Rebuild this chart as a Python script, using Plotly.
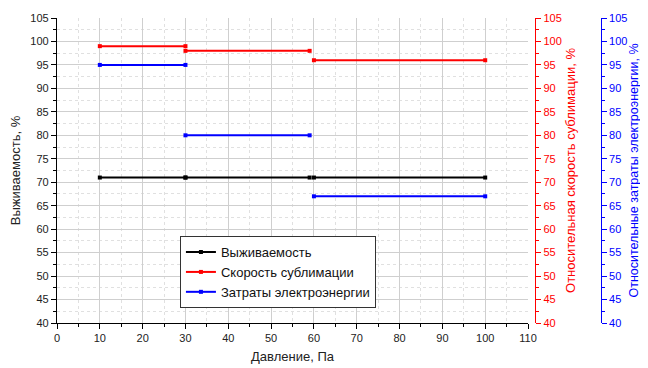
import plotly.graph_objects as go

# Data
seg_start = [10, 30, 60]
seg_end = [30, 59, 100]
survival = [71, 71, 71]
sublimation = [99, 98, 96]
energy = [95, 80, 67]

names = ["Выживаемость", "Скорость сублимации", "Затраты электроэнергии"]
x_title = "Давление, Па"
y1_title = "Выживаемость, %"
y2_title = "Относительная скорость сублимации, %"
y3_title = "Относительные затраты электроэнергии, %"


def build(values):
    xs, ys = [], []
    for s, e, v in zip(seg_start, seg_end, values):
        xs += [s, e, None]
        ys += [v, v, None]
    return xs, ys


fig = go.Figure()
series = [(survival, "black", "y"), (sublimation, "#ff0000", "y2"), (energy, "#0000ff", "y3")]
for (vals, col, ax), nm in zip(series, names):
    xs, ys = build(vals)
    fig.add_trace(go.Scatter(x=xs, y=ys, mode="lines+markers", name=nm, yaxis=ax,
                             line=dict(color=col, width=2),
                             marker=dict(symbol="square", size=4, color=col),
                             connectgaps=False))

font = "Liberation Sans, Arial, sans-serif"
grid_major = "#cfcfcf"
grid_minor = "#e0e0e0"

fig.update_layout(
    width=640, height=360,
    margin=dict(l=49, r=0, t=10, b=45, autoexpand=False),
    paper_bgcolor="white", plot_bgcolor="white",
    font=dict(family=font, size=12, color="#222"),
    showlegend=True,
    legend=dict(x=0.208, y=0.285, xanchor="left", yanchor="top",
                bordercolor="#333", borderwidth=1, bgcolor="white",
                font=dict(size=13, color="#111"), tracegroupgap=0,
                itemwidth=30),
    xaxis=dict(domain=[0, 0.797], range=[0, 110], dtick=10, tick0=0,
               automargin=False,
               showline=True, linecolor="black", linewidth=1.3,
               ticks="outside", ticklen=5, tickcolor="black",
               showgrid=True, gridcolor=grid_major, gridwidth=1,
               zeroline=False,
               minor=dict(dtick=5, ticks="outside", ticklen=3, tickcolor="black",
                          showgrid=True, gridcolor=grid_minor, griddash="dot"),
               title=dict(text=x_title, font=dict(size=13, color="#222"), standoff=8),
               tickfont=dict(size=11, color="#222")),
    yaxis=dict(range=[40, 105], dtick=5, tick0=40, automargin=False,
               showline=True, linecolor="black", linewidth=1.3,
               ticks="outside", ticklen=5, tickcolor="black",
               showgrid=True, gridcolor=grid_major, gridwidth=1,
               zeroline=False,
               minor=dict(dtick=2.5, ticks="outside", ticklen=3, tickcolor="black",
                          showgrid=True, gridcolor=grid_minor, griddash="dot"),
               title=dict(text=y1_title, font=dict(size=13, color="#222"), standoff=7),
               tickfont=dict(size=11, color="#222")),
    yaxis2=dict(range=[40, 105], dtick=5, tick0=40, overlaying="y", automargin=False,
                anchor="free", position=0.809, side="right",
                showline=True, linecolor="#ff0000", linewidth=1.3,
                ticks="outside", ticklen=5, tickcolor="#ff0000",
                showgrid=False, zeroline=False,
                minor=dict(dtick=2.5, ticks="outside", ticklen=3, tickcolor="#ff0000"),
                tickfont=dict(size=11, color="#ff0000"),
                title=dict(text=y2_title, font=dict(size=13, color="#ff0000"), standoff=5)),
    yaxis3=dict(range=[40, 105], dtick=5, tick0=40, overlaying="y", automargin=False,
                anchor="free", position=0.920, side="right",
                showline=True, linecolor="#0000ff", linewidth=1.3,
                ticks="outside", ticklen=5, tickcolor="#0000ff",
                showgrid=False, zeroline=False,
                minor=dict(dtick=2.5, ticks="outside", ticklen=3, tickcolor="#0000ff"),
                tickfont=dict(size=11, color="#0000ff"),
                title=dict(text=y3_title, font=dict(size=12.5, color="#0000ff"), standoff=2)),
)

fig.write_html("out.html")
